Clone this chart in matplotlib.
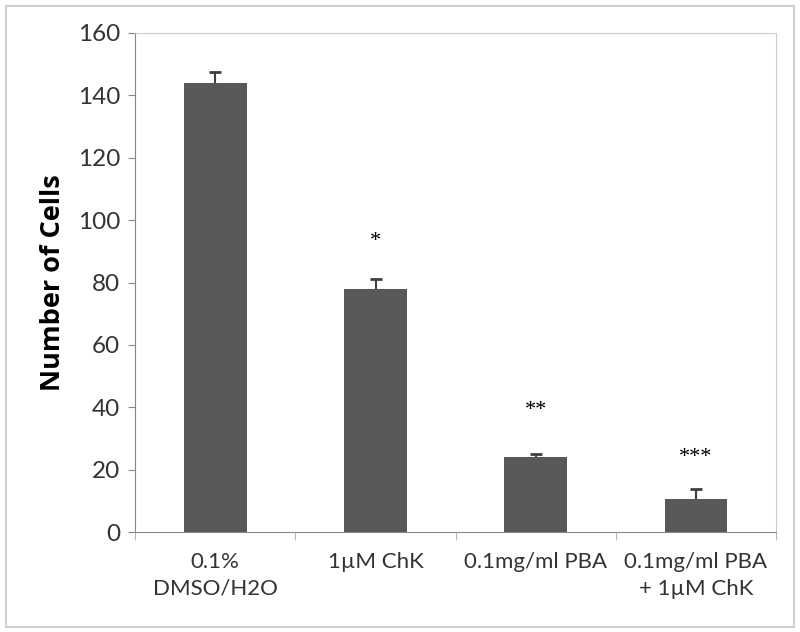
import matplotlib.pyplot as plt
from matplotlib.patches import Rectangle

# data
groups = ['0.1%\nDMSO/H2O', '1\u00b5M ChK', '0.1mg/ml PBA', '0.1mg/ml PBA\n+ 1\u00b5M ChK']
cells = [144, 78, 24, 10.5]
err = [3.5, 3, 1, 3.2]
stars = ['*', '**', '***']
star_y = [93, 39, 24]

fig = plt.figure(figsize=(8, 6.32), dpi=100)
ax = fig.add_axes([0.169, 0.158, 0.801, 0.79])

x = range(len(groups))
ax.bar(x, cells, width=0.39, color='#595959', zorder=2)
# symmetric bars drawn behind, so only the upper half shows
ax.errorbar(x, cells, yerr=err, fmt='none', ecolor='#404040',
            elinewidth=1.5, capsize=4, capthick=2, zorder=1)

# significance marks above bars 2-4
for i, s in enumerate(stars):
    ax.text(i + 1, star_y[i], s, ha='center', va='center', fontsize=16,
            family='Liberation Serif')

ax.set_xlim(-0.5, 3.5)
ax.set_ylim(0, 160)
ax.set_yticks(range(0, 161, 20))
ax.set_xticks(x)
ax.set_xticklabels(groups, fontsize=16, family='Lato', color='#333333', linespacing=1.45)
ax.tick_params(axis='x', length=0, pad=14)
ax.tick_params(axis='y', labelsize=17.5, length=5, color='#888888', labelcolor='#333333', pad=6)
for lbl in ax.get_yticklabels():
    lbl.set_family('Lato')

# category separator ticks under the axis
ax.set_xticks([-0.5, 0.5, 1.5, 2.5, 3.5], minor=True)
ax.tick_params(axis='x', which='minor', length=6, color='#aaaaaa')

for side in ['left', 'bottom']:
    ax.spines[side].set_color('#888888')
for side in ['top', 'right']:
    ax.spines[side].set_color('#cccccc')

ax.set_ylabel('Number of Cells', fontsize=19.5, fontweight='bold', family='Open Sans', labelpad=8)

# light frame around the figure
fig.patches.append(Rectangle((0.007, 0.008), 0.985, 0.983, transform=fig.transFigure,
                             fill=False, edgecolor='#d0d0d0', linewidth=1.5))

fig.savefig('out.png', dpi=100)
